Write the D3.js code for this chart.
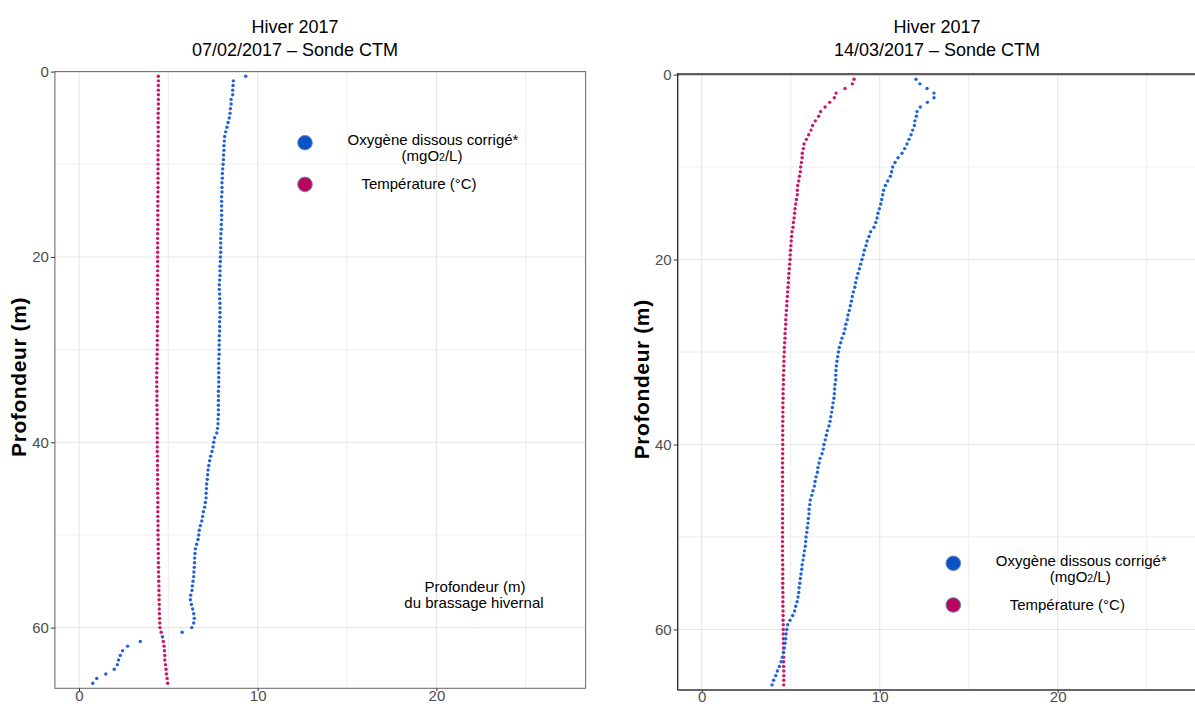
<!DOCTYPE html>
<html>
<head>
<meta charset="utf-8">
<script src="https://cdn.jsdelivr.net/npm/d3@7"></script>
<style>
  body { margin: 0; background: #fff; }
  svg { display: block; font-family: "Liberation Sans", Arial, sans-serif; }
</style>
</head>
<body>
<div id="chart"></div>
<script>
"use strict";

// sampling depths (m), same for both casts
const depths = [
  0.5, 1, 1.5, 2, 2.5, 3, 3.5, 4, 4.5, 5, 5.5, 6, 6.5, 7, 7.5, 8, 8.5, 9, 9.5, 10,
  10.5, 11, 11.5, 12, 12.5, 13, 13.5, 14, 14.5, 15, 15.5, 16, 16.5, 17, 17.5, 18, 18.5, 19, 19.5, 20,
  20.5, 21, 21.5, 22, 22.5, 23, 23.5, 24, 24.5, 25, 25.5, 26, 26.5, 27, 27.5, 28, 28.5, 29, 29.5, 30,
  30.5, 31, 31.5, 32, 32.5, 33, 33.5, 34, 34.5, 35, 35.5, 36, 36.5, 37, 37.5, 38, 38.5, 39, 39.5, 40,
  40.5, 41, 41.5, 42, 42.5, 43, 43.5, 44, 44.5, 45, 45.5, 46, 46.5, 47, 47.5, 48, 48.5, 49, 49.5, 50,
  50.5, 51, 51.5, 52, 52.5, 53, 53.5, 54, 54.5, 55, 55.5, 56, 56.5, 57, 57.5, 58, 58.5, 59, 59.5, 60,
  60.5, 61, 61.5, 62, 62.5, 63, 63.5, 64, 64.5, 65, 65.5, 66
];

// 07/02/2017
const oxyFeb = [
  9.33, 8.64, 8.62, 8.60, 8.60, 8.51, 8.51, 8.47, 8.45, 8.41, 8.34, 8.28, 8.21, 8.15, 8.13, 8.11, 8.11, 8.09, 8.08, 8.06,
  8.04, 8.02, 8.02, 8.00, 8.00, 8.00, 7.98, 7.98, 7.98, 7.98, 7.98, 7.98, 7.96, 7.96, 7.94, 7.93, 7.93, 7.93, 7.93, 7.91,
  7.91, 7.89, 7.89, 7.89, 7.87, 7.85, 7.85, 7.87, 7.87, 7.89, 7.89, 7.89, 7.89, 7.87, 7.87, 7.87, 7.85, 7.85, 7.84, 7.84,
  7.84, 7.82, 7.82, 7.82, 7.82, 7.82, 7.82, 7.82, 7.80, 7.80, 7.80, 7.80, 7.80, 7.80, 7.78, 7.78, 7.75, 7.71, 7.59, 7.54,
  7.50, 7.44, 7.37, 7.31, 7.26, 7.22, 7.20, 7.18, 7.14, 7.13, 7.11, 7.11, 7.07, 7.03, 6.96, 6.92, 6.87, 6.79, 6.73, 6.70,
  6.66, 6.58, 6.51, 6.49, 6.47, 6.47, 6.45, 6.43, 6.42, 6.38, 6.34, 6.32, 6.25, 6.23, 6.29, 6.36, 6.42, 6.45, 6.42, 6.31,
  5.77, 4.67, 3.43, 2.72, 2.44, 2.31, 2.21, 2.14, 1.97, 1.50, 0.99, 0.77
];
const tempFeb = [
  4.44, 4.44, 4.44, 4.44, 4.44, 4.44, 4.44, 4.44, 4.43, 4.43, 4.43, 4.43, 4.43, 4.43, 4.43, 4.43, 4.42, 4.42, 4.42, 4.42,
  4.42, 4.42, 4.42, 4.42, 4.42, 4.42, 4.41, 4.41, 4.41, 4.41, 4.41, 4.41, 4.41, 4.41, 4.40, 4.40, 4.40, 4.40, 4.40, 4.40,
  4.40, 4.40, 4.40, 4.40, 4.40, 4.39, 4.39, 4.39, 4.39, 4.39, 4.39, 4.39, 4.39, 4.39, 4.39, 4.38, 4.38, 4.38, 4.38, 4.38,
  4.37, 4.37, 4.36, 4.36, 4.35, 4.35, 4.35, 4.35, 4.36, 4.36, 4.36, 4.36, 4.37, 4.37, 4.37, 4.37, 4.37, 4.38, 4.38, 4.38,
  4.38, 4.38, 4.39, 4.39, 4.39, 4.39, 4.40, 4.40, 4.40, 4.40, 4.40, 4.41, 4.41, 4.41, 4.41, 4.41, 4.42, 4.42, 4.42, 4.42,
  4.43, 4.43, 4.43, 4.44, 4.44, 4.44, 4.45, 4.45, 4.46, 4.46, 4.47, 4.47, 4.48, 4.48, 4.49, 4.49, 4.50, 4.51, 4.52, 4.53,
  4.60, 4.67, 4.72, 4.76, 4.78, 4.80, 4.80, 4.84, 4.87, 4.89, 4.93, 4.96
];

// 14/03/2017
const oxyMar = [
  12.04, 12.26, 12.66, 13.05, 13.05, 12.68, 12.28, 12.10, 12.06, 11.98, 11.95, 11.85, 11.76, 11.65, 11.53, 11.40, 11.25, 11.03, 10.86, 10.73,
  10.67, 10.60, 10.45, 10.32, 10.22, 10.17, 10.11, 10.06, 9.98, 9.90, 9.85, 9.78, 9.68, 9.49, 9.40, 9.29, 9.23, 9.14, 9.08, 9.00,
  8.93, 8.86, 8.78, 8.71, 8.65, 8.60, 8.52, 8.46, 8.41, 8.35, 8.29, 8.22, 8.18, 8.10, 8.05, 7.98, 7.88, 7.81, 7.73, 7.68,
  7.64, 7.60, 7.56, 7.54, 7.53, 7.53, 7.49, 7.47, 7.45, 7.43, 7.38, 7.34, 7.30, 7.25, 7.21, 7.15, 7.06, 7.00, 6.94, 6.87,
  6.83, 6.76, 6.65, 6.59, 6.53, 6.50, 6.42, 6.37, 6.33, 6.25, 6.18, 6.10, 6.07, 6.03, 6.03, 5.99, 5.97, 5.93, 5.90, 5.86,
  5.84, 5.82, 5.77, 5.73, 5.69, 5.64, 5.62, 5.58, 5.54, 5.51, 5.47, 5.45, 5.41, 5.36, 5.28, 5.22, 5.11, 4.96, 4.83, 4.78,
  4.74, 4.72, 4.68, 4.64, 4.59, 4.53, 4.46, 4.36, 4.25, 4.16, 4.04, 3.95
];
const tempMar = [
  8.56, 8.46, 8.05, 7.55, 7.45, 7.19, 6.93, 6.68, 6.57, 6.38, 6.23, 6.14, 6.01, 5.88, 5.75, 5.71, 5.65, 5.64, 5.60, 5.56,
  5.54, 5.49, 5.45, 5.39, 5.37, 5.37, 5.32, 5.28, 5.24, 5.22, 5.19, 5.15, 5.13, 5.07, 5.05, 5.03, 5.01, 4.99, 4.97, 4.96,
  4.94, 4.92, 4.90, 4.88, 4.87, 4.85, 4.83, 4.81, 4.79, 4.78, 4.76, 4.74, 4.72, 4.72, 4.70, 4.68, 4.68, 4.66, 4.64, 4.64,
  4.62, 4.62, 4.61, 4.61, 4.59, 4.59, 4.59, 4.57, 4.57, 4.57, 4.56, 4.56, 4.56, 4.56, 4.55, 4.55, 4.55, 4.55, 4.55, 4.55,
  4.55, 4.55, 4.54, 4.54, 4.54, 4.54, 4.54, 4.54, 4.54, 4.54, 4.54, 4.54, 4.54, 4.54, 4.54, 4.54, 4.54, 4.54, 4.54, 4.54,
  4.54, 4.54, 4.54, 4.54, 4.54, 4.55, 4.55, 4.55, 4.55, 4.55, 4.55, 4.56, 4.56, 4.56, 4.56, 4.57, 4.57, 4.57, 4.58, 4.58,
  4.58, 4.59, 4.59, 4.59, 4.60, 4.60, 4.60, 4.60, 4.61, 4.61, 4.61, 4.61
];

const titleLine1 = "Hiver 2017";
const titlesLine2 = ["07/02/2017 \u2013 Sonde CTM", "14/03/2017 \u2013 Sonde CTM"];
const yTicks = [0, 20, 40, 60];
const yMinor = [10, 30, 50];
const xTicks = [0, 10, 20];
const xMinor = [5, 15, 25];
const legendLabels = ["Oxyg\u00e8ne dissous corrig\u00e9*", "Temp\u00e9rature (\u00b0C)"];
const noteLines = ["Profondeur (m)", "du brassage hivernal"];

const W = 1195, H = 707;
const oxyColor = "#1f63d6", tempColor = "#c8186a";

var svg = d3.select("#chart").append("svg")
    .attr("width", W)
    .attr("height", H);

function drawPanel(cfg) {
    var x = d3.scaleLinear().domain([-1.35, 28.35]).range([cfg.left, cfg.right]);
    var y = d3.scaleLinear().domain([0, 66.55]).range([cfg.top, cfg.bottom]);
    var g = svg.append("g");

    // clip for the panel
    var clipId = "clip" + cfg.id;
    g.append("clipPath").attr("id", clipId)
        .append("rect")
        .attr("x", cfg.left).attr("y", cfg.top)
        .attr("width", cfg.right - cfg.left).attr("height", cfg.bottom - cfg.top);

    // grid
    var grid = g.append("g");
    grid.selectAll(".vmin").data(xMinor).join("line")
        .attr("x1", d => x(d)).attr("x2", d => x(d))
        .attr("y1", cfg.top).attr("y2", cfg.bottom)
        .attr("stroke", "#ececec").attr("stroke-width", 0.9);
    grid.selectAll(".vmaj").data(xTicks).join("line")
        .attr("x1", d => x(d)).attr("x2", d => x(d))
        .attr("y1", cfg.top).attr("y2", cfg.bottom)
        .attr("stroke", "#e6e6e6").attr("stroke-width", 1.1);
    grid.selectAll(".hmin").data(yMinor).join("line")
        .attr("x1", cfg.left).attr("x2", cfg.right)
        .attr("y1", d => y(d)).attr("y2", d => y(d))
        .attr("stroke", "#ececec").attr("stroke-width", 0.9);
    grid.selectAll(".hmaj").data(yTicks).join("line")
        .attr("x1", cfg.left).attr("x2", cfg.right)
        .attr("y1", d => y(d)).attr("y2", d => y(d))
        .attr("stroke", "#e6e6e6").attr("stroke-width", 1.1);

    // points
    var pts = g.append("g").attr("clip-path", `url(#${clipId})`);
    pts.selectAll(".t").data(cfg.temp).join("circle")
        .attr("cx", d => x(d))
        .attr("cy", (d, i) => y(depths[i]))
        .attr("r", 1.7)
        .attr("fill", tempColor);
    pts.selectAll(".o").data(cfg.oxy).join("circle")
        .attr("cx", d => x(d))
        .attr("cy", (d, i) => y(depths[i]))
        .attr("r", 1.7)
        .attr("fill", oxyColor);

    // frame
    if (cfg.id === 0) {
        g.append("rect")
            .attr("x", cfg.left).attr("y", cfg.top)
            .attr("width", cfg.right - cfg.left).attr("height", cfg.bottom - cfg.top)
            .attr("fill", "none").attr("stroke", "#707070").attr("stroke-width", 1.1);
    } else {
        g.append("line").attr("x1", cfg.left).attr("x2", cfg.right)
            .attr("y1", cfg.top - 0.5).attr("y2", cfg.top - 0.5)
            .attr("stroke", "#5e5e5e").attr("stroke-width", 2.2);
        g.append("line").attr("x1", cfg.left).attr("x2", cfg.left)
            .attr("y1", cfg.top - 1.5).attr("y2", cfg.bottom)
            .attr("stroke", "#333").attr("stroke-width", 1.4);
        g.append("line").attr("x1", cfg.left).attr("x2", cfg.right)
            .attr("y1", cfg.bottom).attr("y2", cfg.bottom)
            .attr("stroke", "#333").attr("stroke-width", 1.4);
    }

    // axes
    var yAxis = g.append("g")
        .attr("transform", `translate(${cfg.left},0)`)
        .call(d3.axisLeft(y).tickValues(yTicks).tickSize(4).tickPadding(2).tickFormat(d3.format("d")));
    var xAxis = g.append("g")
        .attr("transform", `translate(0,${cfg.bottom})`)
        .call(d3.axisBottom(x).tickValues(xTicks).tickSize(3).tickPadding(0).tickFormat(d3.format("d")));
    [yAxis, xAxis].forEach(a => {
        a.select(".domain").remove();
        a.selectAll(".tick line").attr("stroke", "#333");
        a.selectAll(".tick text")
            .attr("fill", "#4d4d4d")
            .style("font-size", "15px")
            .style("font-family", "'Liberation Sans', Arial, sans-serif");
    });
    // keep the bottom labels inside the picture
    xAxis.selectAll(".tick text").attr("dy", "0.62em");

    // axis title
    g.append("text")
        .attr("transform", `translate(${cfg.left - 29},${(cfg.top + cfg.bottom) / 2 - 3}) rotate(-90)`)
        .attr("text-anchor", "middle")
        .style("font-size", "21px")
        .style("font-weight", "bold")
        .style("letter-spacing", "0.6px")
        .text("Profondeur (m)");

    // titles
    g.append("text")
        .attr("x", cfg.titleX).attr("y", 33)
        .attr("text-anchor", "middle")
        .style("font-size", "18px")
        .text(titleLine1);
    g.append("text")
        .attr("x", cfg.titleX).attr("y", 56)
        .attr("text-anchor", "middle")
        .style("font-size", "18px")
        .text(cfg.title2);

    // legend
    var lg = g.append("g").attr("transform", `translate(${cfg.legX},${cfg.legY})`);
    lg.append("circle").attr("cx", 0).attr("cy", 0).attr("r", 7.3)
        .attr("fill", "#0b52c6").attr("stroke", "#6a90c4").attr("stroke-width", 1);
    lg.append("circle").attr("cx", 0).attr("cy", 41.7).attr("r", 7.3)
        .attr("fill", "#b8065f").attr("stroke", "#6a86b8").attr("stroke-width", 1);
    lg.append("text").attr("x", 128).attr("y", 2.7)
        .attr("text-anchor", "middle").style("font-size", "15px")
        .text(legendLabels[0]);
    var l2 = lg.append("text").attr("x", 127).attr("y", 18.5)
        .attr("text-anchor", "middle").style("font-size", "15px");
    l2.append("tspan").text("(mgO");
    l2.append("tspan").style("font-size", "10.5px").text("2");
    l2.append("tspan").text("/L)");
    lg.append("text").attr("x", 114).attr("y", 46.3)
        .attr("text-anchor", "middle").style("font-size", "15px")
        .text(legendLabels[1]);

    return g;
}

var left = drawPanel({
    id: 0, left: 54.9, right: 585.6, top: 71.6, bottom: 688.3,
    oxy: oxyFeb, temp: tempFeb, titleX: 295, title2: titlesLine2[0],
    legX: 305, legY: 142.7
});

// note on the first panel
left.append("text")
    .attr("x", 475).attr("y", 591.5)
    .attr("text-anchor", "middle").style("font-size", "15px")
    .text(noteLines[0]);
left.append("text")
    .attr("x", 474).attr("y", 607.5)
    .attr("text-anchor", "middle").style("font-size", "15px")
    .text(noteLines[1]);

drawPanel({
    id: 1, left: 677.7, right: 1206.3, top: 74.6, bottom: 690,
    oxy: oxyMar, temp: tempMar, titleX: 937, title2: titlesLine2[1],
    legX: 953.3, legY: 563.3
});
</script>
</body>
</html>
